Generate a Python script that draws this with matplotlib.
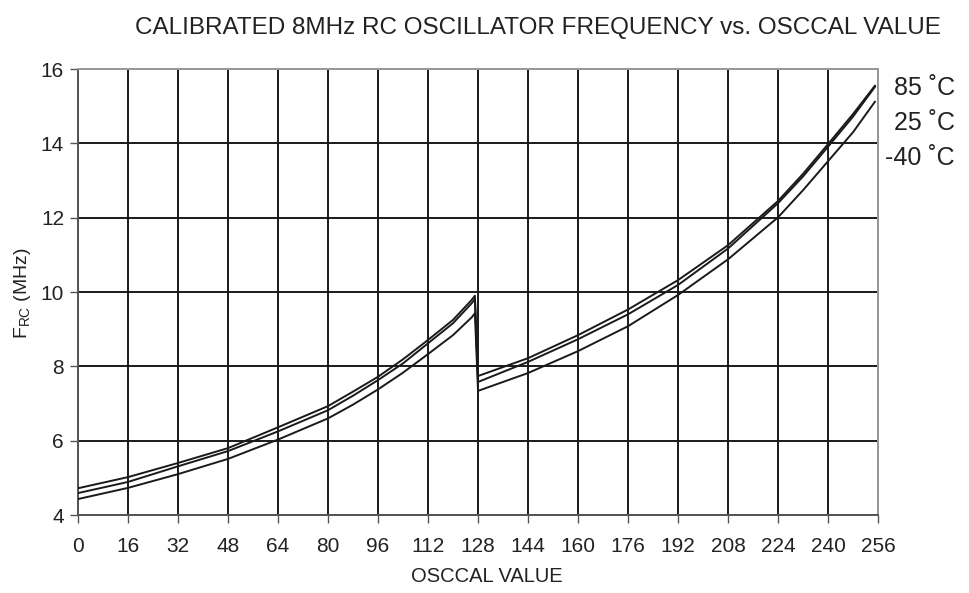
import numpy as np
import matplotlib
matplotlib.use('Agg')
import matplotlib.pyplot as plt

plt.rcParams['font.family'] = ['Liberation Sans', 'DejaVu Sans']
plt.rcParams['mathtext.fontset'] = 'custom'
plt.rcParams['mathtext.rm'] = 'Liberation Sans'

# ── Data ──────────────────────────────────────────────────────────────────────
x_low = [0, 16, 32, 48, 64, 80, 88, 96, 104, 112, 120, 126, 127]
x_high = [128, 144, 160, 176, 192, 208, 224, 232, 240, 248, 255]

f85_low = [4.72, 5.02, 5.40, 5.80, 6.36, 6.93, 7.32, 7.72, 8.19, 8.71, 9.25, 9.79, 9.90]
f25_low = [4.59, 4.89, 5.31, 5.72, 6.25, 6.82, 7.21, 7.63, 8.08, 8.62, 9.16, 9.70, 9.81]
fm40_low = [4.43, 4.73, 5.10, 5.51, 6.03, 6.60, 6.97, 7.38, 7.83, 8.33, 8.84, 9.32, 9.43]

f85_high = [7.74, 8.22, 8.84, 9.53, 10.32, 11.26, 12.45, 13.18, 13.98, 14.79, 15.55]
f25_high = [7.58, 8.12, 8.73, 9.40, 10.19, 11.17, 12.39, 13.11, 13.91, 14.72, 15.52]
fm40_high = [7.34, 7.82, 8.41, 9.08, 9.92, 10.88, 12.01, 12.74, 13.52, 14.30, 15.12]

labels = ['85 \u02daC', '25 \u02daC', '-40 \u02daC']
x_ticks = list(range(0, 257, 16))
y_ticks = [4, 6, 8, 10, 12, 14, 16]

# ── Plot ──────────────────────────────────────────────────────────────────────
fig = plt.figure(figsize=(9.7, 5.93), dpi=100)
ax = fig.add_axes([0.0804, 0.1315, 0.8248, 0.7521])

x_all = x_low + x_high
for lo, hi in [(f85_low, f85_high), (f25_low, f25_high), (fm40_low, fm40_high)]:
    ax.plot(x_all, lo + hi, color='#1a1a1a', lw=1.4, zorder=3)

ax.set_xlim(0, 256)
ax.set_ylim(4, 16)
ax.set_xticks(x_ticks)
ax.set_yticks(y_ticks)
ax.grid(True, color='#1a1a1a', lw=1.4)
ax.tick_params(direction='out', length=6, width=1, color='#555555',
               labelsize=15, labelcolor='#222222')
ax.tick_params(axis='x', pad=10)
ax.tick_params(axis='y', pad=4)

for side in ['top', 'right']:
    ax.spines[side].set_color('#999999')
    ax.spines[side].set_linewidth(1.4)
for side in ['left', 'bottom']:
    ax.spines[side].set_color('#555555')
    ax.spines[side].set_linewidth(1.4)

# Temperature labels at right
for lab, ypos in zip(labels, [88, 123, 158]):
    fig.text(955 / 970, 1 - ypos / 593, lab, ha='right', va='center',
             fontsize=18, color='#222222')

fig.text(538 / 970, 1 - 28 / 593,
         'CALIBRATED 8MHz RC OSCILLATOR FREQUENCY vs. OSCCAL VALUE',
         ha='center', va='center', fontsize=17.5, color='#222222')
fig.text(487 / 970, 1 - 577 / 593, 'OSCCAL VALUE', ha='center', va='center',
         fontsize=14.5, color='#222222')
fig.text(23 / 970, 1 - 293 / 593, r'F$_{\mathrm{RC}}$ (MHz)', ha='center',
         va='center', rotation=90, fontsize=14, color='#222222')

fig.savefig('out.png', dpi=100)
